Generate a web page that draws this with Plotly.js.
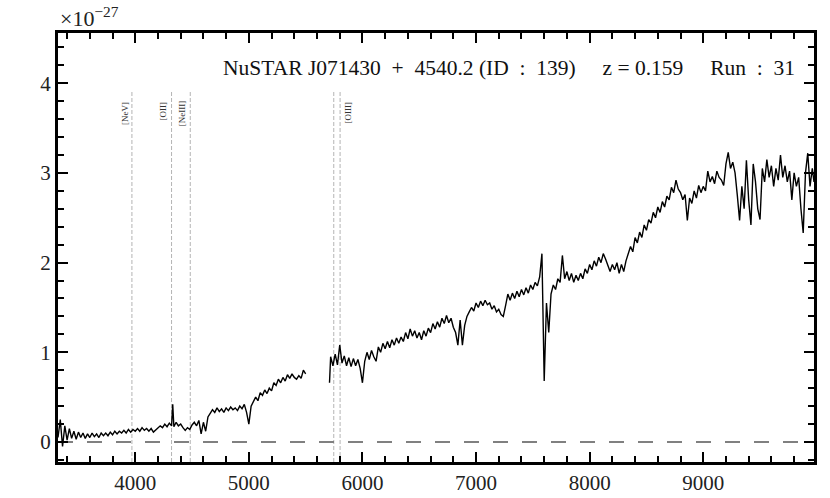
<!DOCTYPE html>
<html>
<head>
<meta charset="utf-8">
<script src="https://cdn.plot.ly/plotly-3.0.1.min.js"></script>
<style>html,body{margin:0;padding:0;background:#fff;}#wrap{position:relative;width:830px;height:498px;}#chart{width:830px;height:498px;}#tickov{position:absolute;left:0;top:0;width:830px;height:498px;pointer-events:none;}</style>
</head>
<body>
<div id="wrap"><div id="chart"></div><svg id="tickov" xmlns="http://www.w3.org/2000/svg" width="830" height="498"></svg></div>
<script>
const wave = [
3320,3340,3360,3380,3400,3420,3440,3460,3480,3500,3520,3540,3560,3580,3600,3620,3640,3660,3680,3700,
3720,3740,3760,3780,3800,3820,3840,3860,3880,3900,3920,3940,3960,3980,4000,4020,4040,4060,4080,4100,
4120,4140,4160,4180,4200,4220,4240,4260,4280,4300,4320,4330,4340,4360,4380,4400,4420,4440,4460,4480,
4500,4520,4540,4560,4580,4600,4620,4640,4660,4680,4700,4720,4740,4760,4780,4800,4820,4840,4860,4880,
4900,4920,4940,4960,4980,5000,5020,5040,5060,5080,5100,5120,5140,5160,5180,5200,5220,5240,5260,5280,
5300,5320,5340,5360,5380,5400,5420,5440,5460,5480,5500,
5600,
5710,5720,5740,5760,5780,5800,5820,5840,5860,5880,5900,5920,5940,5960,5980,6000,6020,6040,6060,6080,
6100,6120,6140,6160,6180,6200,6220,6240,6260,6280,6300,6320,6340,6360,6380,6400,6420,6440,6460,6480,
6500,6520,6540,6560,6580,6600,6620,6640,6660,6680,6700,6720,6740,6760,6780,6800,6820,6840,6860,6880,
6900,6920,6940,6960,6980,7000,7020,7040,7060,7080,7100,7120,7140,7160,7180,7200,7220,7240,7260,7280,
7300,7320,7340,7360,7380,7400,7420,7440,7460,7480,7500,7520,7540,7560,7580,7600,7620,7640,7660,7680,
7700,7720,7740,7760,7780,7800,7820,7840,7860,7880,7900,7920,7940,7960,7980,8000,8020,8040,8060,8080,
8100,8120,8140,8160,8180,8200,8220,8240,8260,8280,8300,8320,8340,8360,8380,8400,8420,8440,8460,8480,
8500,8520,8540,8560,8580,8600,8620,8640,8660,8680,8700,8720,8740,8760,8780,8800,8820,8840,8860,8880,
8900,8920,8940,8960,8980,9000,9020,9040,9060,9080,9100,9120,9140,9160,9180,9200,9220,9240,9260,9280,
9300,9320,9340,9360,9380,9400,9420,9440,9460,9480,9500,9520,9540,9560,9580,9600,9620,9640,9660,9680,
9700,9720,9740,9760,9780,9800,9820,9840,9860,9880,9900,9920,9940,9960,9975
];
const flux = [
0.05,0.25,-0.05,0.18,0.02,0.15,0.04,0.12,0.03,0.11,0.05,0.10,0.04,0.09,0.05,0.10,0.06,0.09,0.05,0.10,
0.07,0.10,0.07,0.11,0.08,0.12,0.09,0.12,0.10,0.13,0.10,0.14,0.11,0.14,0.12,0.15,0.12,0.16,0.13,0.15,
0.12,0.15,0.11,0.13,0.15,0.18,0.16,0.20,0.17,0.21,0.18,0.42,0.17,0.22,0.18,0.20,0.16,0.13,0.16,0.14,
0.19,0.22,0.18,0.24,0.09,0.22,0.12,0.28,0.32,0.36,0.33,0.38,0.34,0.37,0.33,0.38,0.35,0.39,0.36,0.38,
0.35,0.40,0.37,0.42,0.33,0.20,0.40,0.45,0.50,0.46,0.55,0.52,0.58,0.54,0.60,0.57,0.66,0.63,0.70,0.66,
0.72,0.68,0.75,0.71,0.76,0.72,0.70,0.74,0.71,0.80,0.76,
null,
0.66,0.95,0.85,0.98,0.86,1.08,0.88,0.96,0.85,0.94,0.84,0.93,0.85,0.92,0.82,0.66,0.90,1.00,0.92,1.02,
0.95,0.90,1.06,1.00,1.10,1.04,1.12,1.05,1.14,1.08,1.16,1.10,1.17,1.12,1.22,1.15,1.26,1.18,1.24,1.16,
1.22,1.14,1.24,1.18,1.27,1.22,1.32,1.26,1.34,1.28,1.38,1.32,1.41,1.33,1.38,1.28,1.22,1.08,1.36,1.08,
1.30,1.40,1.45,1.50,1.46,1.55,1.50,1.57,1.52,1.58,1.53,1.55,1.48,1.52,1.45,1.48,1.42,1.40,1.52,1.65,
1.58,1.66,1.60,1.68,1.62,1.70,1.64,1.72,1.66,1.75,1.70,1.78,1.74,1.84,2.10,0.68,1.55,1.22,1.65,1.75,
1.70,1.82,1.78,2.08,1.82,1.90,1.80,1.88,1.78,1.86,1.80,1.88,1.82,1.93,1.88,1.98,1.92,2.02,1.96,2.06,
2.00,2.10,2.04,1.98,1.90,1.98,1.92,2.00,1.88,1.98,1.90,2.02,2.10,2.18,2.12,2.28,2.22,2.34,2.28,2.42,
2.36,2.48,2.44,2.56,2.50,2.62,2.56,2.68,2.62,2.74,2.70,2.84,2.78,2.92,2.82,2.78,2.70,2.76,2.47,2.72,
2.66,2.80,2.72,2.86,2.78,2.85,2.80,3.02,2.90,2.96,2.88,3.02,2.95,2.92,2.86,3.10,3.23,3.05,3.12,3.00,
2.75,2.47,2.85,2.60,3.14,2.70,2.42,3.10,2.90,2.60,2.48,3.05,2.90,3.15,2.95,3.08,2.85,3.05,2.92,3.20,
2.95,3.08,2.90,3.02,2.70,3.00,2.85,2.95,2.60,2.33,3.00,3.22,2.85,3.05,2.90
];
const zeroLineX = [3320, 9975];
const zeroLineY = [0, 0];
const lineNames = ["[NeV]", "[OII]", "[NeIII]", "[OIII]", "[OIII]"];
const lineRest = [3426, 3727, 3869, 4959, 5007];
const lineLabelShow = [true, true, true, false, true];
const lineLabelShift = [-7, -9, -8, 0, 8];
const redshift = 0.159;
const sp = "&nbsp;";
const titleText = "NuSTAR J071430" + sp + sp + "+" + sp + sp + "4540.2" + sp + "(ID" + sp + sp + ":" + sp + sp + "139)" +
  sp + sp + sp + sp + sp + "z = 0.159" + sp + sp + sp + sp + sp + "Run" + sp + sp + ":" + sp + sp + "31";

const serif = "Liberation Serif, Times New Roman, serif";
const lineObs = lineRest.map(w => w * (1 + redshift));

const shapes = lineObs.map(x => ({
  type: 'line', xref: 'x', yref: 'paper', x0: x, x1: x, y0: 0, y1: 0.867,
  line: {color: '#b4b4b4', width: 1, dash: '4px,2px'}, layer: 'below'
}));

const annotations = [];
lineObs.forEach((x, i) => {
  if (!lineLabelShow[i]) return;
  annotations.push({
    x: x, xref: 'x', y: 0.845, yref: 'paper', text: lineNames[i], showarrow: false,
    textangle: -90, xanchor: 'center', yanchor: 'top', xshift: lineLabelShift[i],
    font: {family: serif, size: 9, color: '#333'}
  });
});
annotations.push({
  x: 0.9775, xref: 'paper', y: 0.918, yref: 'paper', xanchor: 'right', yanchor: 'middle',
  text: titleText, showarrow: false, font: {family: serif, size: 21.5, color: '#111'}
});
annotations.push({
  x: 0, xref: 'paper', y: 1, yref: 'paper', xanchor: 'left', yanchor: 'bottom', yshift: 0,
  text: "×10<sup>−27</sup>", showarrow: false, font: {family: serif, size: 22, color: '#222'}
});

const traces = [
  {x: zeroLineX, y: zeroLineY, mode: 'lines', line: {color: '#808080', width: 2.2, dash: '15px,14px'}, hoverinfo: 'skip'},
  {x: wave, y: flux, mode: 'lines', line: {color: '#000', width: 1.4}, connectgaps: false}
];

const axisCommon = {
  showline: true, linecolor: '#000', linewidth: 3, mirror: 'allticks',
  ticks: 'inside', ticklen: 10, tickwidth: 2, tickcolor: '#000',
  showgrid: false, zeroline: false,
  tickfont: {family: serif, size: 21, color: '#222'}
};

const layout = {
  width: 830, height: 498,
  margin: {l: 58, r: 16, t: 33, b: 36, pad: 0},
  showlegend: false,
  xaxis: Object.assign({}, axisCommon, {
    range: [3320, 9975], dtick: 1000, tickformat: 'd',
    minor: {ticks: 'inside', ticklen: 6, tickwidth: 1.5, tickcolor: '#000', dtick: 200}
  }),
  yaxis: Object.assign({}, axisCommon, {
    range: [-0.223, 4.56], dtick: 1, tickformat: 'd',
    minor: {ticks: 'inside', ticklen: 6, tickwidth: 1.5, tickcolor: '#000', dtick: 0.2}
  }),
  shapes: shapes,
  annotations: annotations
};

const gd = document.getElementById('chart');
Plotly.newPlot(gd, traces, layout, {displayModeBar: false}).then(function(){
  // Re-show the tick marks that Plotly computed, in an overlay SVG on top of the chart
  const ov = document.getElementById('tickov');
  const NS = 'http://www.w3.org/2000/svg';
  gd.querySelectorAll('path.ticks').forEach(function(p){
    const q = document.createElementNS(NS, 'path');
    q.setAttribute('d', p.getAttribute('d'));
    const tr = p.getAttribute('transform');
    if (tr) q.setAttribute('transform', tr);
    const sw = p.style.strokeWidth || '2px';
    q.setAttribute('stroke', '#000');
    q.setAttribute('stroke-width', parseFloat(sw));
    q.setAttribute('fill', 'none');
    q.setAttribute('shape-rendering', 'crispEdges');
    ov.appendChild(q);
  });
});
</script>
</body>
</html>
